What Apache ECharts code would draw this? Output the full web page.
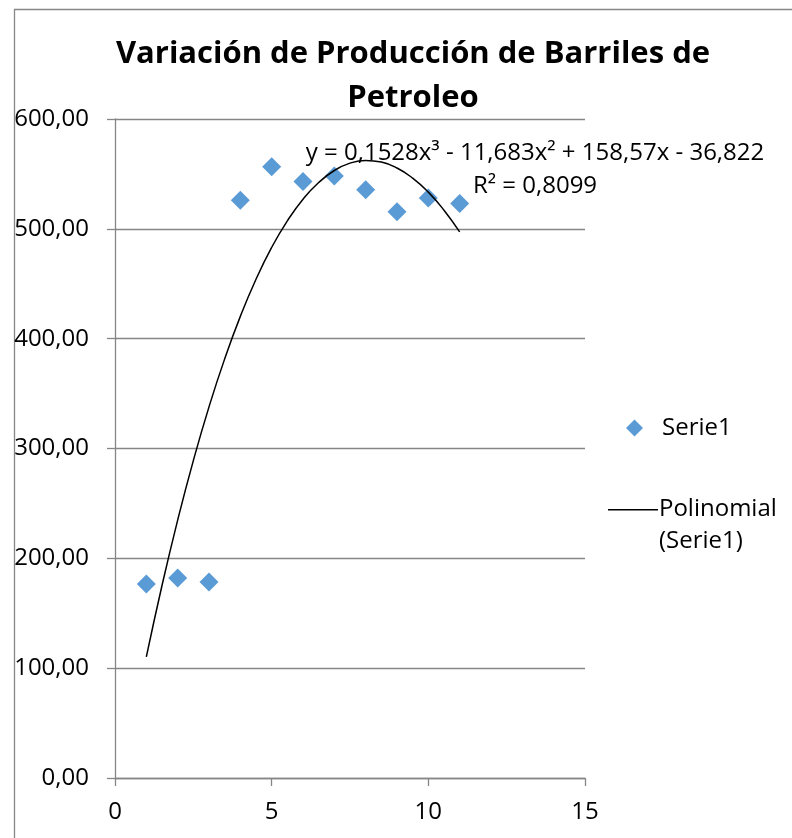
<!DOCTYPE html>
<html>
<head>
<meta charset="utf-8">
<script src="https://cdn.jsdelivr.net/npm/echarts@6/dist/echarts.min.js"></script>
<style>
html,body{margin:0;padding:0;background:#fff;}
#c{width:792px;height:838px;}
</style>
</head>
<body>
<div id="c"></div>
<script>
// Data
var xValues = [1, 2, 3, 4, 5, 6, 7, 8, 9, 10, 11];
var yValues = [176.7, 182.0, 178.5, 526.0, 556.5, 543.0, 548.0, 535.5, 515.5, 528.0, 523.0];
// Polynomial trend line values (as drawn)
var trendX = [1, 1.5, 2, 2.5, 3, 3.5, 4, 4.5, 5, 5.5, 6, 6.5, 7, 7.5, 8, 8.5, 9, 9.5, 10, 10.5, 11];
var trendY = [110.2, 175.3, 234.8, 289.0, 337.9, 381.6, 420.3, 454.1, 483.1, 507.3, 527.0, 542.2, 553.1, 559.8, 562.3, 560.8, 555.4, 546.2, 533.4, 517.0, 497.2];
var yTickLabels = ['0,00', '100,00', '200,00', '300,00', '400,00', '500,00', '600,00'];
var xTickLabels = ['0', '5', '10', '15'];
var titleText = 'Variación de Producción de Barriles de\nPetroleo';
var equationText = 'y = 0,1528x³ - 11,683x² + 158,57x - 36,822';
var r2Text = 'R² = 0,8099';
var seriesName = 'Serie1';
var trendName = 'Polinomial (Serie1)';

var scatterData = xValues.map(function (x, i) { return [x, yValues[i]]; });
var trendData = trendX.map(function (x, i) { return [x, trendY[i]]; });

var FONT = 'Open Sans';
var GRAY = '#868686';

var chart = echarts.init(document.getElementById('c'), null, {renderer: 'canvas'});
chart.setOption({
  animation: false,
  backgroundColor: '#fff',
  title: {
    text: titleText,
    left: 408,
    top: 27,
    textAlign: 'center',
    textStyle: {fontFamily: FONT, fontSize: 31, fontWeight: 'bold', color: '#000', lineHeight: 44}
  },
  grid: {left: 115, right: 207, top: 119, bottom: 60, containLabel: false},
  xAxis: {
    type: 'value', min: 0, max: 15, interval: 5,
    axisLine: {show: true, onZero: false, lineStyle: {color: GRAY, width: 1.3}},
    axisTick: {show: true, inside: false, length: 8, lineStyle: {color: GRAY, width: 1.3}},
    splitLine: {show: false},
    axisLabel: {
      margin: 22, fontFamily: FONT, fontSize: 24, color: '#000',
      formatter: function (v) { return xTickLabels[Math.round(v / 5)]; }
    }
  },
  yAxis: {
    type: 'value', min: 0, max: 600, interval: 100,
    axisLine: {show: true, lineStyle: {color: GRAY, width: 1.3}},
    axisTick: {show: true, inside: false, length: 8, lineStyle: {color: GRAY, width: 1.3}},
    splitLine: {show: true, lineStyle: {color: GRAY, width: 1.3}},
    axisLabel: {
      margin: 26, fontFamily: FONT, fontSize: 24, color: '#000',
      formatter: function (v) { return yTickLabels[Math.round(v / 100)]; }
    }
  },
  legend: [
    {
      data: [{name: seriesName, icon: 'diamond'}],
      left: 621, top: 411, orient: 'vertical',
      itemWidth: 17, itemHeight: 17, itemGap: 0,
      textStyle: {fontFamily: FONT, fontSize: 24, color: '#000', padding: [0, 0, 0, 14]}
    },
    {
      data: [{name: trendName, icon: 'path://M0,0L50,0L50,1.5L0,1.5Z M0,32L0.01,32L0.01,32.01Z'}],
      left: 603, top: 488, orient: 'vertical',
      itemWidth: 50, itemHeight: 32, itemGap: 0,
      formatter: function (n) { return 'Polinomial\n(Serie1)'; },
      textStyle: {fontFamily: FONT, fontSize: 24, color: '#000', lineHeight: 32, padding: [0, 0, 0, -4]}
    }
  ],
  series: [
    {
      name: seriesName, type: 'scatter', data: scatterData,
      symbol: 'diamond', symbolSize: 19,
      itemStyle: {color: '#5B9BD5', opacity: 1}, z: 2
    },
    {
      name: trendName, type: 'line', data: trendData,
      smooth: true, showSymbol: false, symbol: 'none',
      lineStyle: {color: '#000', width: 1.5},
      itemStyle: {color: '#000'}, z: 3
    }
  ],
  graphic: [
    {
      type: 'rect', left: 12, top: 7, silent: true, z: -10,
      shape: {x: 0, y: 0, width: 800, height: 850},
      style: {fill: 'none', stroke: GRAY, lineWidth: 1.3}
    },
    {
      type: 'text', x: 535, y: 153, z: 10,
      style: {text: equationText, fontFamily: FONT, fontSize: 24, fill: '#000', textAlign: 'center', textVerticalAlign: 'middle'}
    },
    {
      type: 'text', x: 535, y: 186, z: 10,
      style: {text: r2Text, fontFamily: FONT, fontSize: 24, fill: '#000', textAlign: 'center', textVerticalAlign: 'middle'}
    }
  ]
});
</script>
</body>
</html>
